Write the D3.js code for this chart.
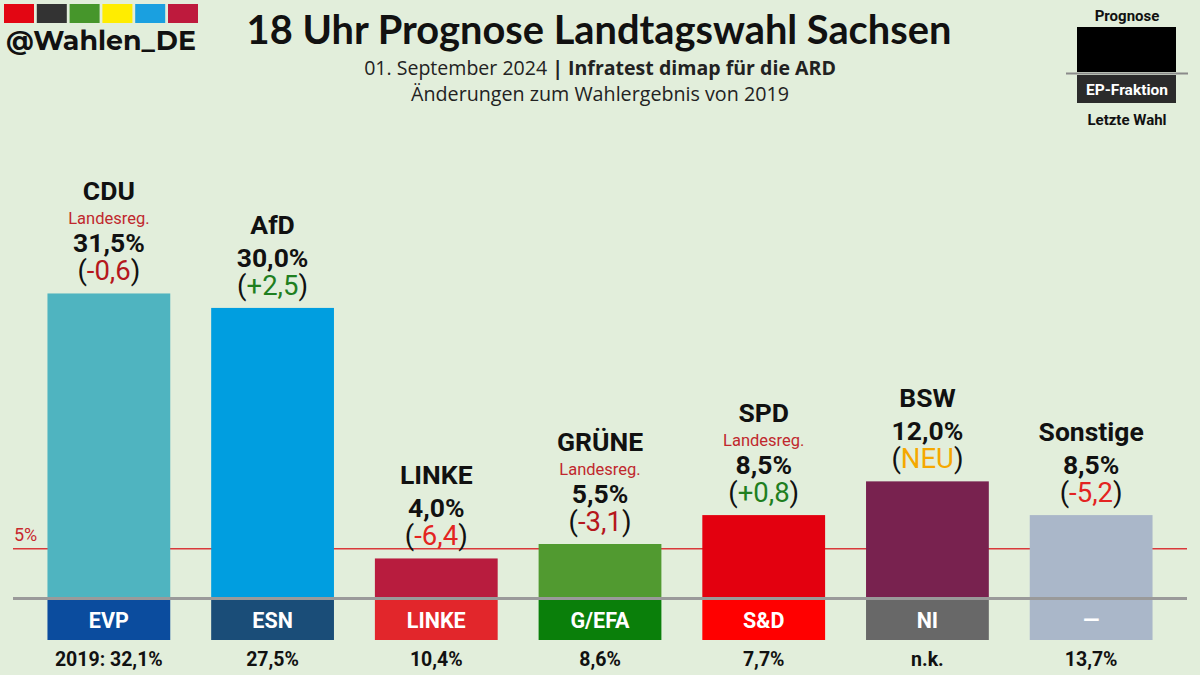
<!DOCTYPE html>
<html><head><meta charset="utf-8">
<script src="https://cdn.jsdelivr.net/npm/d3@7"></script>
<style>
html,body{margin:0;padding:0;background:#e2eedb;}
svg{display:block;}
text{font-family:Roboto,"Noto Sans",sans-serif;}
</style></head>
<body>
<svg id="chart" width="1200" height="675"></svg>
<script>
// ---- data ----
const parties   = ["CDU","AfD","LINKE","GRÜNE","SPD","BSW","Sonstige"];
const values    = [31.5, 30.0, 4.0, 5.5, 8.5, 12.0, 8.5];
const changes   = [-0.6, 2.5, -6.4, -3.1, 0.8, null, -5.2];
const govt      = [true, false, false, true, true, false, false];
const epGroups  = ["EVP","ESN","LINKE","G/EFA","S&D","NI","—"];
const lastVote  = ["2019: 32,1%","27,5%","10,4%","8,6%","7,7%","n.k.","13,7%"];
const barColors = ["#4fb4c0","#009ee0","#b81c3e","#519a30","#e3000f","#78224f","#aab7c9"];
const epColors  = ["#0b4c9e","#1a4d78","#e2262b","#0a7f0a","#ff0000","#686868","#aab7c9"];
const logoColors= ["#e30613","#333333","#46962b","#ffed00","#1aa0e0","#be1a3d"];
const threshold = 5;

const fmt = v => v.toFixed(1).replace(".", ",");
const svg = d3.select("#chart");

function fitWidth(sel, target){
  const n = sel.node();
  const fs = parseFloat(sel.attr("font-size"));
  const w = n.getComputedTextLength();
  if (w > 0) sel.attr("font-size", (fs * target / w).toFixed(2));
}

// ---- scales ----
const x = d3.scaleBand().domain(parties).range([27, 1173]).paddingInner(0.25).paddingOuter(0.125);
const y = d3.scaleLinear().domain([0, 35]).range([597, 597 - 35 * 9.636]);

// ---- header ----
const logo = svg.append("g");
logo.selectAll("rect").data(logoColors).join("rect")
  .attr("x", (d,i) => 4 + i * 32.8).attr("y", 4).attr("width", 30).attr("height", 19).attr("fill", d => d);
const handle = logo.append("text").attr("x", 6).attr("y", 50).attr("font-size", 27)
  .attr("font-weight", 700).attr("fill", "#111").style("font-family", "Montserrat,'Noto Sans',sans-serif").text("@Wahlen_DE");
fitWidth(handle, 190);

const title = svg.append("text").attr("x", 599).attr("y", 44).attr("text-anchor", "middle")
  .attr("font-size", 32).attr("font-weight", 700).attr("fill", "#111")
  .style("font-family", "Lato,'Noto Sans',sans-serif").text("18 Uhr Prognose Landtagswahl Sachsen");
fitWidth(title, 705);

const sub1 = svg.append("text").attr("x", 600).attr("y", 75).attr("text-anchor", "middle")
  .attr("font-size", 18).attr("fill", "#222").style("font-family", "'Open Sans',sans-serif");
sub1.append("tspan").text("01. September 2024 ");
sub1.append("tspan").attr("font-weight", 700).text("| Infratest dimap für die ARD");
fitWidth(sub1, 472);
const sub2 = svg.append("text").attr("x", 600).attr("y", 101).attr("text-anchor", "middle")
  .attr("font-size", 18).attr("fill", "#222").style("font-family", "'Open Sans',sans-serif")
  .text("Änderungen zum Wahlergebnis von 2019");
fitWidth(sub2, 378);

// ---- legend (top right) ----
const lg = svg.append("g");
lg.append("text").attr("x", 1127).attr("y", 21).attr("text-anchor", "middle").attr("font-size", 15)
  .attr("font-weight", 700).attr("fill", "#111").text("Prognose");
lg.append("rect").attr("x", 1077).attr("y", 27).attr("width", 99).attr("height", 45).attr("fill", "#000");
lg.append("rect").attr("x", 1077).attr("y", 75).attr("width", 99).attr("height", 28).attr("fill", "#2b2b2b");
lg.append("line").attr("x1", 1066).attr("x2", 1188).attr("y1", 73.5).attr("y2", 73.5)
  .attr("stroke", "#8a8a8a").attr("stroke-width", 2);
lg.append("text").attr("x", 1127).attr("y", 94.5).attr("text-anchor", "middle").attr("font-size", 15.5)
  .attr("font-weight", 700).attr("fill", "#fff").text("EP-Fraktion");
lg.append("text").attr("x", 1127).attr("y", 125).attr("text-anchor", "middle").attr("font-size", 15)
  .attr("font-weight", 700).attr("fill", "#111").text("Letzte Wahl");

// ---- threshold line (behind bars) ----
svg.append("line").attr("x1", 13).attr("x2", 1187).attr("y1", y(threshold)).attr("y2", y(threshold))
  .attr("stroke", "#d9393b").attr("stroke-width", 1.5);
svg.append("text").attr("x", 14).attr("y", y(threshold) - 8).attr("font-size", 18)
  .attr("fill", "#c8282d").text(threshold + "%");

// ---- bars ----
const rows = parties.map((p,i) => ({p, v: values[i], c: changes[i], g: govt[i], ep: epGroups[i], last: lastVote[i], bc: barColors[i], ec: epColors[i]}));

svg.append("g").selectAll("rect").data(rows).join("rect")
  .attr("x", d => x(d.p)).attr("width", x.bandwidth())
  .attr("y", d => y(d.v)).attr("height", d => y(0) - y(d.v)).attr("fill", d => d.bc);

// EP boxes
const ep = svg.append("g").selectAll("g").data(rows).join("g");
ep.append("rect").attr("x", d => x(d.p)).attr("width", x.bandwidth())
  .attr("y", 599).attr("height", 41).attr("fill", d => d.ec);
ep.append("text").attr("x", d => x(d.p) + x.bandwidth()/2).attr("y", 628).attr("text-anchor", "middle")
  .attr("font-size", 21.5).attr("font-weight", 700).attr("fill", "#fff").text(d => d.ep);

// baseline
svg.append("line").attr("x1", 13).attr("x2", 1187).attr("y1", y(0) + 1.5).attr("y2", y(0) + 1.5)
  .attr("stroke", "#9a9a9a").attr("stroke-width", 3);

// last-election labels
svg.append("g").selectAll("text").data(rows).join("text")
  .attr("x", d => x(d.p) + x.bandwidth()/2).attr("y", 666).attr("text-anchor", "middle")
  .attr("font-size", 19.5).attr("font-weight", 700).attr("fill", "#111").text(d => d.last);

// labels above bars
const lab = svg.append("g").selectAll("g").data(rows).join("g")
  .attr("transform", d => `translate(${x(d.p) + x.bandwidth()/2},${y(d.v)})`);
lab.append("text").attr("y", d => d.g ? -93 : -74).attr("text-anchor", "middle")
  .attr("font-size", 26.5).attr("font-weight", 700).attr("fill", "#111").text(d => d.p);
lab.filter(d => d.g).append("text").attr("y", -69).attr("text-anchor", "middle")
  .attr("font-size", 16.5).attr("fill", "#c0282d").text("Landesreg.");
lab.append("text").attr("y", -41).attr("text-anchor", "middle")
  .attr("font-size", 26.5).attr("font-weight", 700).attr("fill", "#111").text(d => fmt(d.v) + "%");
const ch = lab.append("text").attr("y", -13).attr("text-anchor", "middle")
  .attr("font-size", 27.5).attr("fill", "#111");
ch.append("tspan").text("(");
ch.append("tspan")
  .attr("fill", d => d.c === null ? "#f5a800" : d.c > 0 ? "#1f7f1f" : (d.c <= -5 ? "#e32421" : "#b5171c"))
  .text(d => d.c === null ? "NEU" : (d.c > 0 ? "+" : "") + fmt(d.c));
ch.append("tspan").text(")");
</script>
</body></html>
